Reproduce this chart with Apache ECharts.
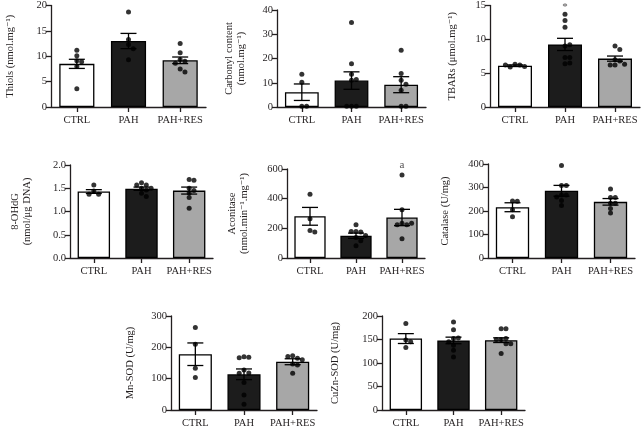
<!DOCTYPE html>
<html><head><meta charset="utf-8">
<script src="https://cdn.jsdelivr.net/npm/echarts@6/dist/echarts.min.js"></script>
<style>html,body{margin:0;padding:0;background:#fff}#c{width:644px;height:429px}</style>
</head><body><div id="c"></div>
<script>
// ---------- DATA ----------
const groups = ['CTRL', 'PAH', 'PAH+RES'];

const thiolsMean = [8.5, 13.0, 9.2];
const thiolsSem = [0.9, 1.5, 0.65];
const thiolsPts = [[11.2, 10.1, 9.1, 8.9, 8.0, 3.6], [18.7, 13.3, 12.3, 11.5, 9.3], [12.5, 10.7, 9.35, 9.0, 8.6, 7.5, 6.9]];

const carbonylMean = [6.1, 10.9, 9.2];
const carbonylSem = [3.4, 3.6, 3.3];
const carbonylPts = [[13.5, 10.2, 0.3, 0.3], [34.8, 17.8, 13.5, 11.0, 11.3, 0.3, 0.3, 0.3], [23.4, 13.8, 11.0, 9.4, 6.9, 0.3, 0.3]];

const tbarsMean = [6.1, 9.25, 7.15];
const tbarsSem = [0.12, 0.9, 0.38];
const tbarsPts = [[6.3, 6.2, 5.9, 6.0, 6.2], [13.7, 12.8, 11.8, 9.0, 9.2, 7.3, 7.3, 6.4, 6.5], [9.0, 8.5, 7.0, 6.8, 6.2, 6.2, 6.3]];

const ohdgMean = [1.43, 1.49, 1.45];
const ohdgSem = [0.04, 0.035, 0.075];
const ohdgPts = [[1.57, 1.44, 1.37, 1.37], [1.62, 1.57, 1.57, 1.50, 1.50, 1.46, 1.39, 1.32], [1.69, 1.67, 1.50, 1.45, 1.40, 1.30, 1.07]];

const aconitaseMean = [281, 150, 273];
const aconitaseSem = [60, 18, 55];
const aconitasePts = [[430, 264, 186, 175], [224, 179, 175, 179, 152, 139, 116, 83], [560, 325, 235, 224, 224, 235, 130]];

const catalaseMean = [216, 286, 239];
const catalaseSem = [19, 23, 14];
const catalasePts = [[243, 242, 205, 176], [394, 309, 309, 268, 268, 260, 245, 223], [294, 257, 257, 233, 233, 211, 192]];

const mnsodMean = [178, 114, 154];
const mnsodSem = [36, 17, 9.5];
const mnsodPts = [[263, 210, 133, 104], [170, 168, 167, 128, 118, 117, 88, 48, 18], [173, 165, 171, 160, 147, 144, 117]];

const cuznMean = [152, 148, 148.6];
const cuznSem = [10.5, 7, 5];
const cuznPts = [[184, 149, 145, 133], [187, 171, 152, 153, 145, 138, 127, 113], [173, 173, 150, 152, 150, 141, 141, 120]];

const yMax = [20, 40, 15, 2.0, 600, 400, 300, 200];
const yInterval = [5, 10, 5, 0.5, 200, 100, 100, 50];

const yNames = ['Thiols (nmol.mg\u207B\u00B9)', 'Carbonyl content\n(nmol.mg\u207B\u00B9)', 'TBARs (\u03BCmol.mg\u207B\u00B9)',
  '8-OHdG\n(nmol/\u03BCg DNA)', 'Aconitase\n(nmol.min\u207B\u00B9.mg\u207B\u00B9)', 'Catalase (U/mg)', 'Mn-SOD (U/mg)', 'CuZn-SOD (U/mg)'];

// annotations: [panel, group index, value, text]
const annotations = [[2, 1, 14.8, '*'], [4, 2, 625, 'a']];

// ---------- LAYOUT ----------
const panels = [
  {mean: thiolsMean, sem: thiolsSem, pts: thiolsPts, grid: {left: 51, top: 4, width: 155, height: 103}, gap: 35},
  {mean: carbonylMean, sem: carbonylSem, pts: carbonylPts, grid: {left: 277, top: 10, width: 149, height: 97}, gap: 30},
  {mean: tbarsMean, sem: tbarsSem, pts: tbarsPts, grid: {left: 490, top: 4, width: 150, height: 103}, gap: 32},
  {mean: ohdgMean, sem: ohdgSem, pts: ohdgPts, grid: {left: 70, top: 165, width: 143, height: 93}, gap: 37, dec: 1},
  {mean: aconitaseMean, sem: aconitaseSem, pts: aconitasePts, grid: {left: 287, top: 169, width: 138, height: 89}, gap: 37},
  {mean: catalaseMean, sem: catalaseSem, pts: catalasePts, grid: {left: 488, top: 164, width: 147, height: 94}, gap: 37},
  {mean: mnsodMean, sem: mnsodSem, pts: mnsodPts, grid: {left: 171, top: 316, width: 146, height: 94}, gap: 35},
  {mean: cuznMean, sem: cuznSem, pts: cuznPts, grid: {left: 382, top: 316, width: 143, height: 94}, gap: 41}
];

const FONT = "'Liberation Serif', 'DejaVu Serif', serif";
const INK = '#231f20';
const barColors = ['#ffffff', '#1c1c1c', '#a7a7a7'];
const DOT = 5;

function swarm(vals, pxPerUnit, catPx) {
  const placed = [];
  const res = new Array(vals.length);
  const d = 4.4, step = 4.8;
  vals.forEach((v, i) => {
    const y = v * pxPerUnit;
    for (let k = 0; k < 40; k++) {
      const s = k === 0 ? 0 : (k % 2 ? Math.ceil(k / 2) : -Math.ceil(k / 2));
      const x = s * step;
      let ok = true;
      for (const p of placed) {
        if ((p[0] - x) ** 2 + (p[1] - y) ** 2 < d * d) { ok = false; break; }
      }
      if (ok) { placed.push([x, y]); res[i] = x / catPx; break; }
    }
  });
  return res;
}

function errRender(params, api) {
  const x = api.value(0), m = api.value(1), s = api.value(2);
  const top = api.coord([x, m + s]);
  const bot = api.coord([x, m - s]);
  const h = 8;
  const st = {stroke: '#000', lineWidth: 1.3};
  return {type: 'group', children: [
    {type: 'line', shape: {x1: top[0], y1: top[1], x2: bot[0], y2: bot[1]}, style: st},
    {type: 'line', shape: {x1: top[0] - h, y1: top[1], x2: top[0] + h, y2: top[1]}, style: st},
    {type: 'line', shape: {x1: bot[0] - h, y1: bot[1], x2: bot[0] + h, y2: bot[1]}, style: st}
  ]};
}

const grid = [], xAxis = [], yAxis = [], series = [];
panels.forEach((p, i) => {
  grid.push(Object.assign({containLabel: false}, p.grid));
  const axisLine = {show: true, lineStyle: {color: INK, width: 1.3}};
  xAxis.push({type: 'category', gridIndex: i, data: groups, boundaryGap: true,
    axisLine: axisLine, axisTick: {show: true, alignWithLabel: true, length: 5, lineStyle: {color: INK, width: 1.3}},
    axisLabel: {color: INK, fontFamily: FONT, fontSize: 10.5, margin: 8, interval: 0}, splitLine: {show: false}});
  xAxis.push({type: 'value', gridIndex: i, min: 0, max: 3, show: false});
  yAxis.push({type: 'value', gridIndex: i, min: 0, max: yMax[i], interval: yInterval[i],
    name: yNames[i], nameLocation: 'middle', nameGap: p.gap,
    nameTextStyle: {color: INK, fontFamily: FONT, fontSize: 10.5, lineHeight: 12},
    axisLine: axisLine, axisTick: {show: true, length: 5, lineStyle: {color: INK, width: 1.3}},
    axisLabel: {color: INK, fontFamily: FONT, fontSize: 10.5, margin: 4,
      formatter: v => p.dec ? v.toFixed(p.dec) : String(v)},
    splitLine: {show: false}});
  series.push({type: 'bar', xAxisIndex: 2 * i, yAxisIndex: i, barWidth: '68%',
    data: p.mean.map((m, j) => ({value: m, itemStyle: {color: barColors[j], borderColor: '#000', borderWidth: 1.3}})),
    z: 2, animation: false});
  series.push({type: 'custom', xAxisIndex: 2 * i, yAxisIndex: i, renderItem: errRender,
    data: p.mean.map((m, j) => [j, m, p.sem[j]]), z: 3, animation: false, clip: false});
  const pxPerUnit = p.grid.height / yMax[i];
  const catPx = p.grid.width / 3;
  const dots = [];
  p.pts.forEach((arr, j) => {
    const offs = swarm(arr, pxPerUnit, catPx);
    arr.forEach((v, k) => dots.push([j + 0.5 + offs[k], v]));
  });
  series.push({type: 'scatter', xAxisIndex: 2 * i + 1, yAxisIndex: i, symbolSize: DOT,
    itemStyle: {color: '#000'}, data: dots, z: 4, animation: false, clip: false});
});

annotations.forEach(a => {
  const [pi, gi, v, t] = a;
  series.push({type: 'scatter', xAxisIndex: 2 * pi + 1, yAxisIndex: pi, symbolSize: 1,
    itemStyle: {color: 'rgba(0,0,0,0)'}, clip: false, animation: false, z: 5,
    data: [[gi + 0.5, v]],
    label: {show: true, position: 'inside', formatter: t, color: INK, fontFamily: FONT, fontSize: 11}});
});

const chart = echarts.init(document.getElementById('c'), null, {renderer: 'canvas'});
chart.setOption({backgroundColor: '#fff', animation: false, grid, xAxis, yAxis, series});
</script>
</body></html>
